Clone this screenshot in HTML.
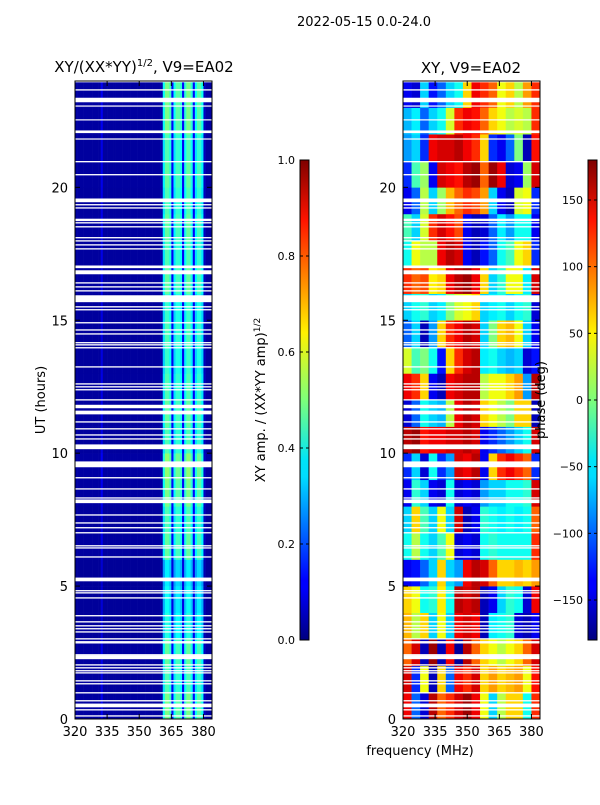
<!DOCTYPE html>
<html><head><meta charset="utf-8"><style>
body{margin:0;background:#fff;}
svg text{font-family:"DejaVu Sans","Liberation Sans",sans-serif;fill:#000;}
</style></head><body>
<svg id="fig" width="600" height="800" viewBox="0 0 600 800">
<defs>
<linearGradient id="jet" x1="0" y1="1" x2="0" y2="0">
<stop offset="0" stop-color="#00007f"/><stop offset="0.11" stop-color="#0000ff"/><stop offset="0.125" stop-color="#0000ff"/>
<stop offset="0.34" stop-color="#00dcff"/><stop offset="0.375" stop-color="#00e5f7"/><stop offset="0.5" stop-color="#7dff7a"/>
<stop offset="0.64" stop-color="#fff200"/><stop offset="0.875" stop-color="#ff1300"/><stop offset="1" stop-color="#7f0000"/>
</linearGradient>
</defs>
<text x="364" y="26" font-size="13" text-anchor="middle">2022-05-15 0.0-24.0</text>
<g id="left"></g>
<g id="right"></g>
<g id="cb1"></g>
<g id="cb2"></g>
<text x="144" y="72" font-size="15" text-anchor="middle">XY/(XX*YY)<tspan font-size="10" dy="-6">1/2</tspan><tspan dy="6">, V9=EA02</tspan></text>
<text x="471" y="73" font-size="15" text-anchor="middle">XY, V9=EA02</text>
<text transform="translate(45,400) rotate(-90)" font-size="13" text-anchor="middle">UT (hours)</text>
<text x="420" y="755" font-size="13" text-anchor="middle">frequency (MHz)</text>
<text transform="translate(265,400) rotate(-90)" font-size="13" text-anchor="middle">XY amp. / (XX*YY amp)<tspan font-size="9" dy="-5">1/2</tspan></text>
<text transform="translate(545,400) rotate(-90)" font-size="13" text-anchor="middle">phase (deg)</text>
</svg>
<script>
// ---- data ----
const freqMin = 320, freqMax = 384, hourMin = 0, hourMax = 24;
const xTicks = [320, 335, 350, 365, 380];
const yTicks = [0, 5, 10, 15, 20];
// amplitude per 1-MHz channel (320..383)
const ampChannels = [0.03,0.03,0.03,0.03,0.03,0.03,0.03,0.03,0.03,0.03,0.03,0.03,0.1,0.03,0.03,0.03,0.03,0.03,0.03,0.03,
0.03,0.03,0.03,0.03,0.03,0.03,0.03,0.03,0.03,0.03,0.03,0.03,0.03,0.03,0.03,0.03,0.03,0.03,0.03,0.03,0.04,
0.35,0.45,0.45,0.4,0.12,0.35,0.42,0.42,0.38,0.12,0.38,0.45,0.45,0.38,0.12,0.35,0.42,0.42,0.35,0.06,0.03,0.03,0.03];
// per-hour gain (hour 0 .. 23)
const ampHourGain = [1.1,1.0,1.05,0.9,0.85,0.8,1.05,1.0,1.1,1.15,1.0,1.05,1.0,0.95,1.0,0.95,1.05,1.0,1.05,1.0,1.05,1.0,1.1,1.1];
// phase, rows hour 0..23, 16 freq blocks of 4 MHz
const phaseRows = [
[140,-100,-150,160,100,120,150,170,140,40,-60,20,60,60,-40,120],
[150,-120,40,-160,60,-100,140,120,150,60,80,60,70,80,40,130],
[100,150,-160,170,-160,140,-170,160,100,60,40,20,40,60,100,150],
[70,20,60,-60,40,-60,140,150,140,-160,-50,-40,-30,-150,-160,-140],
[60,40,-40,-30,50,-40,160,150,160,-160,-140,-60,-30,-40,-150,140],
[-140,-130,-100,-60,60,-60,-80,140,160,150,100,60,60,70,60,80],
[-40,20,-40,-60,-20,40,-150,-140,-150,-40,-30,-40,-40,-40,-40,120],
[-60,60,-20,-60,40,-60,150,-160,-140,-30,-40,-50,-40,-50,-40,100],
[-140,-30,-60,-140,-150,-40,-150,-140,-150,-80,-60,-60,-40,-40,-30,150],
[-120,-60,-150,-40,-120,-80,150,140,160,-140,60,120,140,120,100,-120],
[160,170,130,140,140,150,150,160,150,-140,-120,-100,-80,-60,-40,150],
[-150,-100,-40,-60,-70,20,140,160,150,60,40,20,0,60,60,-160],
[140,120,60,-140,-160,140,150,160,160,20,40,40,60,80,-80,160],
[30,-20,0,-40,-130,60,120,150,160,-50,-40,-60,-70,-60,-150,-130],
[-100,-60,-160,-80,60,120,140,160,150,-60,0,60,70,40,-60,-140],
[-60,-40,-30,-60,-50,0,30,40,60,-60,-50,-40,-60,-40,-30,-150],
[120,100,110,50,60,140,160,170,140,60,-60,-30,40,40,-50,150],
[-40,40,20,20,140,160,150,-140,-160,-130,-100,-40,-20,40,60,-120],
[-20,-60,30,120,150,130,110,-140,-160,-150,-100,-50,-80,-40,-40,-140],
[-140,-100,20,-60,10,70,100,120,110,80,-60,-140,-160,30,40,-120],
[-120,-20,10,-140,150,140,130,160,170,100,170,140,-150,-140,10,150],
[-80,-60,-120,140,150,150,160,140,120,60,-120,-140,-100,0,-160,130],
[-70,-50,-100,-60,-40,30,120,140,130,100,60,40,20,30,20,120],
[-140,-150,-60,-130,-100,-60,-40,60,140,120,100,40,60,20,80,120]];
// flagged (blank) time ranges in hours [start,end]
const flagStart = [23.95,23.64,23.2,23.04,22.52,22.04,21.8,20.94,20.45,19.44,19.32,19.2,18.73,18.64,18.49,18.08,17.96,17.81,17.66,16.96,16.73,16.38,16.23,16.08,15.68,15.48,15.37,14.88,14.61,14.46,14.13,14.05,13.94,13.22,12.58,12.47,12.36,11.98,
11.69,11.46,11.15,10.89,10.66,10.51,10.15,9.47,9.05,8.63,8.29,8.12,7.65,7.35,7.17,6.98,6.49,6.41,6.07,5.18,4.8,4.72,4.53,3.86,3.63,3.48,3.37,3.25,2.99,2.88,2.84,2.39,2.25,2.01,1.9,1.79,1.71,1.41,1.3,0.96,0.66,0.44,0.32,0.09];
const flagEnd = [24.0,23.69,23.37,23.08,22.56,22.14,21.84,20.99,20.5,19.58,19.37,19.25,18.82,18.69,18.54,18.13,18.01,17.86,17.71,17.06,16.88,16.43,16.28,16.13,15.94,15.53,15.42,14.93,14.66,14.51,14.18,14.1,13.99,13.27,12.63,12.52,12.41,12.03,
11.82,11.6,11.2,10.94,10.71,10.56,10.33,9.69,9.1,8.68,8.34,8.26,7.7,7.4,7.22,7.03,6.54,6.46,6.12,5.32,4.85,4.77,4.58,3.91,3.68,3.53,3.42,3.3,3.04,2.93,2.89,2.44,2.39,2.06,1.95,1.84,1.76,1.46,1.35,1.01,0.71,0.58,0.37,0.14];
const cb1Ticks = [0.0,0.2,0.4,0.6,0.8,1.0];
const cb2Ticks = [-150,-100,-50,0,50,100,150];

// ---- rendering ----
const NS = "http://www.w3.org/2000/svg";
function mk(tag, attrs, parent){const e=document.createElementNS(NS,tag);for(const k in attrs)e.setAttribute(k,attrs[k]);parent.appendChild(e);return e;}
function jet(v){v=Math.max(0,Math.min(1,v));
 const r=Math.max(0,Math.min(1,1.5-Math.abs(4*v-3))),g=Math.max(0,Math.min(1,1.5-Math.abs(4*v-2))),b=Math.max(0,Math.min(1,1.5-Math.abs(4*v-1)));
 return `rgb(${Math.round(r*255)},${Math.round(g*255)},${Math.round(b*255)})`;}
const axTop=81,axBot=719;
function yScale(h){return axBot-(h-hourMin)/(hourMax-hourMin)*(axBot-axTop);}
function panel(g,x0,x1,kind){
 const xs=f=>x0+(f-freqMin)/(freqMax-freqMin)*(x1-x0);
 if(kind==='amp'){
  for(let r=0;r<ampHourGain.length;r++)for(let c=0;c<ampChannels.length;c++){
   const v=ampChannels[c]*ampHourGain[r];
   const y1=yScale(r+1),y2=yScale(r);
   const el=mk('rect',{x:xs(freqMin+c),y:y1,width:xs(freqMin+c+1)-xs(freqMin+c)+0.3,height:y2-y1+0.3,fill:jet(v)},g);
   
   
  }
 } else {
  const bw=(freqMax-freqMin)/16;
  for(let r=0;r<phaseRows.length;r++)for(let c=0;c<16;c++){
   const v=(phaseRows[r][c]+180)/360;
   const y1=yScale(r+1),y2=yScale(r);
   const el=mk('rect',{x:xs(freqMin+c*bw),y:y1,width:xs(freqMin+(c+1)*bw)-xs(freqMin+c*bw)+0.3,height:y2-y1+0.3,fill:jet(v)},g);
   
   
  }
 }
 for(let i=0;i<flagStart.length;i++){
  const y1=yScale(flagEnd[i]),y2=yScale(flagStart[i]);
  const el=mk('rect',{x:x0,y:y1,width:x1-x0,height:Math.max(1.2,y2-y1),fill:'#fff'},g);
  
  
 }
 const fr=mk('rect',{x:x0,y:axTop,width:x1-x0,height:axBot-axTop,fill:'none',stroke:'#000','stroke-width':1},g);
 
 
 for(const t of xTicks){const x=xs(t);
  mk('line',{x1:x,x2:x,y1:axBot,y2:axBot-5,stroke:'#000'},g);mk('line',{x1:x,x2:x,y1:axTop,y2:axTop+5,stroke:'#000'},g);
  const tx=mk('text',{x:x,y:axBot+17,'font-size':13,'text-anchor':'middle'},g);tx.textContent=t;
  
  }
 for(const t of yTicks){const y=yScale(t);
  mk('line',{x1:x0,x2:x0+5,y1:y,y2:y,stroke:'#000'},g);mk('line',{x1:x1,x2:x1-5,y1:y,y2:y,stroke:'#000'},g);
  const tx=mk('text',{x:x0-7,y:y+5,'font-size':13,'text-anchor':'end'},g);tx.textContent=t;
  
  }
}
panel(document.getElementById('left'),75,212,'amp');
panel(document.getElementById('right'),403,540,'phase');
function cbar(g,x,lo,hi,ticks,fmt){
 const t0=160,t1=640;
 const r=mk('rect',{x:x,y:t0,width:9,height:t1-t0,fill:'url(#jet)',stroke:'#000','stroke-width':1},g);
 
 
 for(const t of ticks){const y=t1-(t-lo)/(hi-lo)*(t1-t0);
  mk('line',{x1:x,x2:x+3,y1:y,y2:y,stroke:'#000'},g);mk('line',{x1:x+9,x2:x+6,y1:y,y2:y,stroke:'#000'},g);
  const tx=mk('text',{x:x-5,y:y+4,'font-size':11,'text-anchor':'end'},g);tx.textContent=fmt(t);
  
  }
}
cbar(document.getElementById('cb1'),300,0,1,cb1Ticks,v=>v.toFixed(1));
cbar(document.getElementById('cb2'),588,-180,180,cb2Ticks,v=>v<0?'\u2212'+(-v):String(v));
</script>
</body></html>
